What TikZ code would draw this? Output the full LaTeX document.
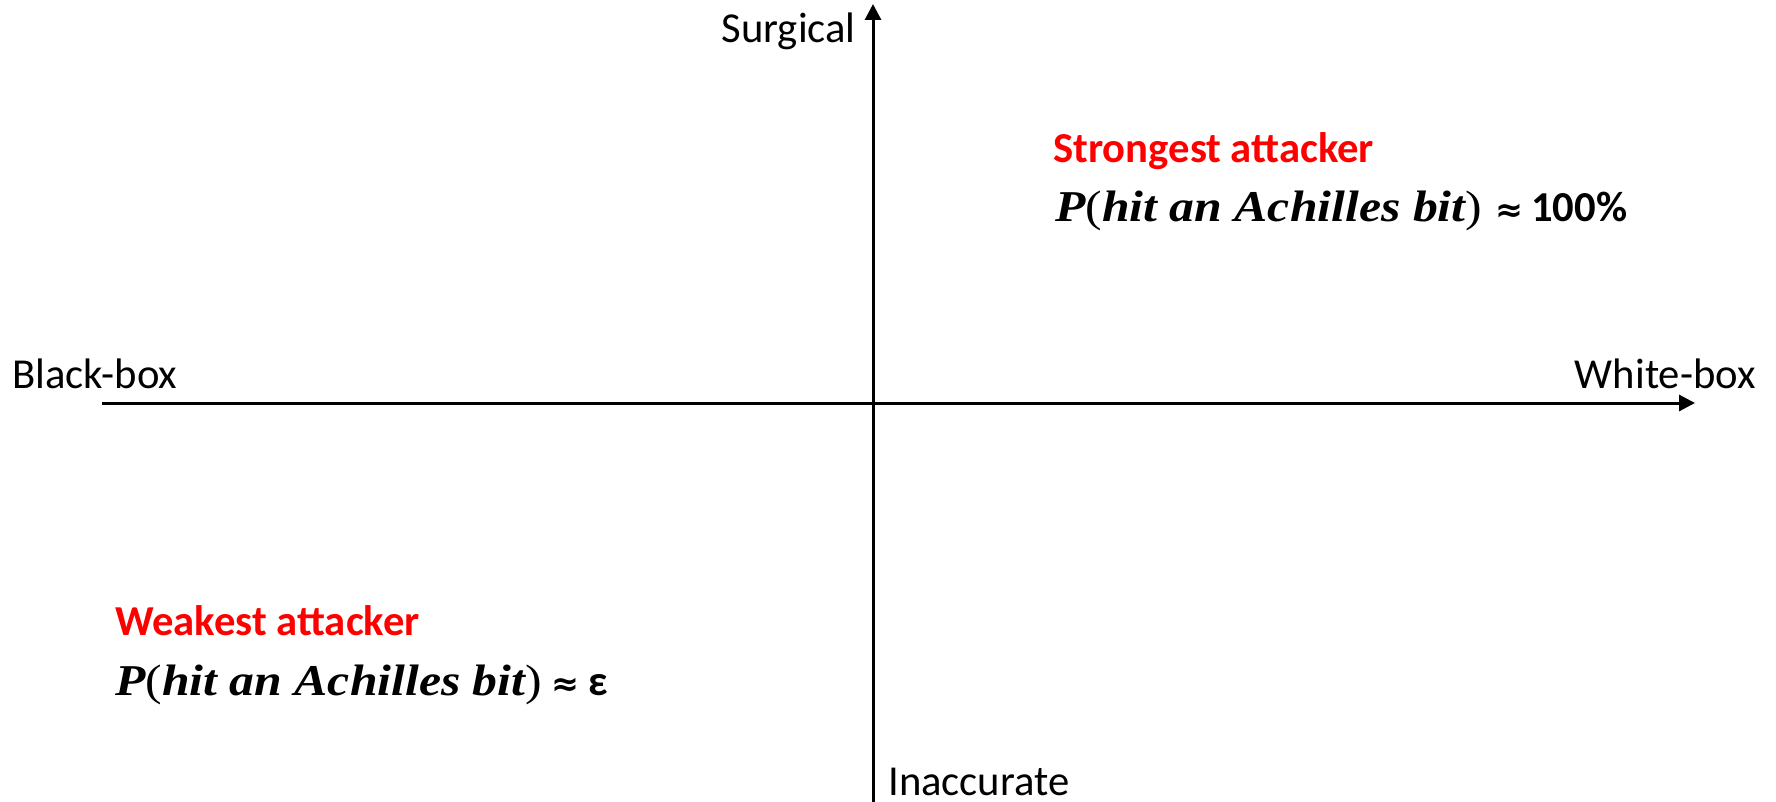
\documentclass[tikz,border=0pt]{standalone}
\usepackage{fontspec}
\usepackage{graphicx}
\setmainfont{Carlito}
\newfontfamily\mth{Liberation Serif}
\newfontfamily\sym{DejaVu Sans}
\usetikzlibrary{arrows.meta}
\definecolor{attred}{RGB}{255,0,0}
\tikzset{
  axisline/.style={line width=2.25pt,-{Triangle[length=12pt,width=12pt]}},
  axlabel/.style={inner sep=0pt,font=\fontsize{32}{38}\selectfont},
  attlabel/.style={inner sep=0pt,text=attred,font=\fontsize{32}{38}\selectfont\bfseries},
  plabel/.style={inner sep=0pt,font=\fontsize{32}{38}\selectfont},
}
\newcommand{\phit}{\scalebox{1.13}[1]{\fontsize{33}{38}\selectfont{\mth\bfseries\itshape P}{\mth(}{\mth\bfseries\itshape hit an Achilles bit}{\mth)}}}
\newcommand{\approxsym}{{\sym\bfseries\fontsize{25}{28}\selectfont ≈}}
\begin{document}
\begin{tikzpicture}[x=0.75pt,y=-0.75pt]
\useasboundingbox (0,0) rectangle (1776,802);
\coordinate (vtop) at (873,4);
\coordinate (vbot) at (873,802);
\coordinate (hleft) at (102,403);
\coordinate (hright) at (1695,403);
\draw[axisline] (hleft) -- (hright);
\draw[axisline] (vbot) -- (vtop);
\node[axlabel,anchor=base east] (surg) at (856,43) {Surgical};
\node[axlabel,anchor=base west] (bb) at (12,388) {Black-box};
\node[axlabel,anchor=base east] (wb) at (1756,388) {White-box};
\node[axlabel,anchor=base west] (inacc) at (888,795) {Inaccurate};
\node[attlabel,anchor=base west] (strong) at (1053,163) {Strongest attacker};
\node[plabel,anchor=base west] (pstrong) at (1055,222) {\phit\hspace{10pt}\approxsym\hspace{6pt}\textbf{100\%}};
\node[attlabel,anchor=base west] (weak) at (115,635) {Weakest attacker};
\node[plabel,anchor=base west] (pweak) at (115,695) {\phit\hspace{7pt}\approxsym\hspace{7pt}\textbf{ε}};
\end{tikzpicture}
\end{document}
